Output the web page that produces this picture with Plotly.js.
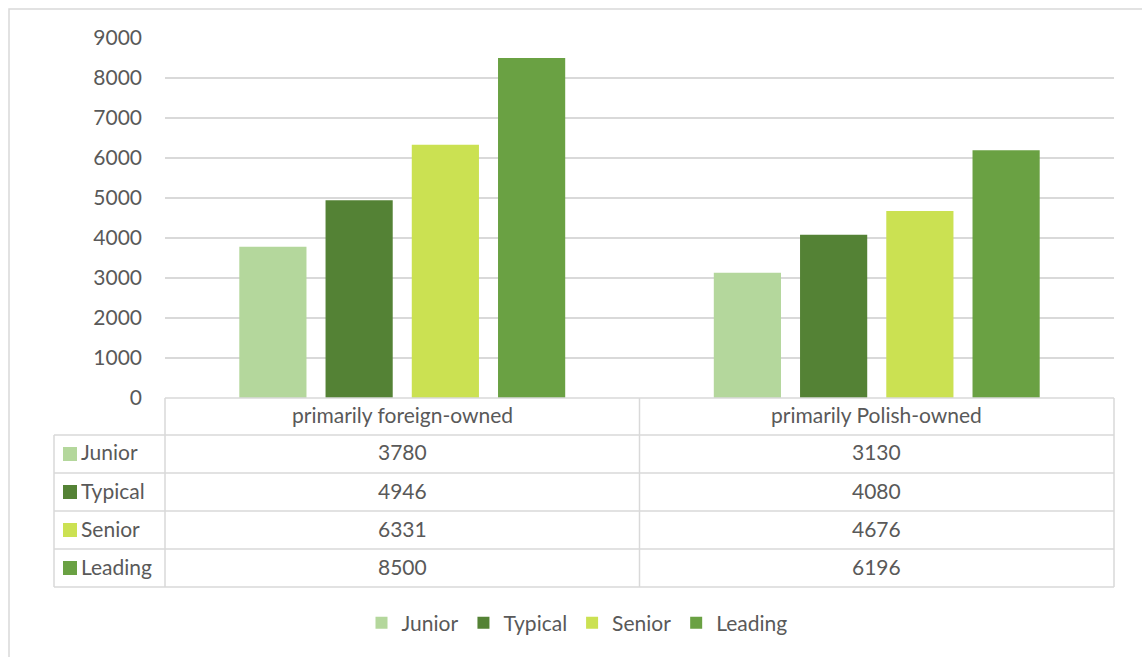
<!DOCTYPE html>
<html>
<head>
<meta charset="utf-8">
<script src="https://cdn.plot.ly/plotly-3.0.1.min.js"></script>
<style>
  html, body { margin: 0; padding: 0; background: #fff; }
  #myDiv { width: 1142px; height: 657px; }
</style>
</head>
<body>
<div id="myDiv"></div>
<script>
var categories = ['primarily foreign-owned', 'primarily Polish-owned'];
var seriesNames = ['Junior', 'Typical', 'Senior', 'Leading'];
var junior = [3780, 3130];
var typical = [4946, 4080];
var senior = [6331, 4676];
var leading = [8500, 6196];
var tickVals = [0, 1000, 2000, 3000, 4000, 5000, 6000, 7000, 8000, 9000];

var values = [junior, typical, senior, leading];
var colors = ['#B4D79C', '#548235', '#CBE152', '#6AA143'];

// plot area in pixels
var X0 = 165, X1 = 1114, Y0 = 398, Y1 = 38;
function fx(px) { return (px - X0) / (X1 - X0); }
function fy(py) { return (Y0 - py) / (Y0 - Y1); }

var font = 'Lato, "Open Sans", sans-serif';
var fontSize = 21;
var textColor = '#595959';
var gridColor = '#D9D9D9';

var data = seriesNames.map(function (name, i) {
  return {
    type: 'bar',
    name: name,
    x: categories,
    y: values[i],
    marker: { color: colors[i] },
    hoverinfo: 'x+y+name'
  };
});

// data table rows
var rowTops = [435, 473, 511, 549];
var rowH = 38;
var tableLeft = 54, tableBottom = 587;

var shapes = [];
var annotations = [];
var line = { color: gridColor, width: 1.5 };
var txtFont = { family: font, size: fontSize, color: textColor };

// outer chart border
shapes.push({ type: 'rect', xref: 'paper', yref: 'paper',
  x0: fx(9), x1: fx(1160), y0: fy(9), y1: fy(680), line: { color: '#D9D9D9', width: 1.5 } });

// table lines
shapes.push({ type: 'line', xref: 'paper', yref: 'paper', x0: 0, x1: 1, y0: 0, y1: 0, line: line });
rowTops.forEach(function (t) {
  shapes.push({ type: 'line', xref: 'paper', yref: 'paper', x0: fx(tableLeft), x1: 1, y0: fy(t), y1: fy(t), line: line });
});
shapes.push({ type: 'line', xref: 'paper', yref: 'paper', x0: fx(tableLeft), x1: 1, y0: fy(tableBottom), y1: fy(tableBottom), line: line });
shapes.push({ type: 'line', xref: 'paper', yref: 'paper', x0: fx(tableLeft), x1: fx(tableLeft), y0: fy(rowTops[0]), y1: fy(tableBottom), line: line });
[0, 0.5, 1].forEach(function (p) {
  shapes.push({ type: 'line', xref: 'paper', yref: 'paper', x0: p, x1: p, y0: 0, y1: fy(tableBottom), line: line });
});

// header labels
categories.forEach(function (c) {
  annotations.push({ xref: 'x', yref: 'paper', x: c, y: fy(Y0 + rowH / 2 - 3),
    xanchor: 'center', yanchor: 'middle', text: c, showarrow: false, font: txtFont });
});

// rows
seriesNames.forEach(function (name, i) {
  var cy = fy(rowTops[i] + rowH / 2 - 2);
  shapes.push({ type: 'rect', xref: 'paper', yref: 'paper',
    x0: fx(63), x1: fx(77), y0: fy(rowTops[i] + rowH / 2 - 7), y1: fy(rowTops[i] + rowH / 2 + 7),
    fillcolor: colors[i], line: { width: 0 } });
  annotations.push({ xref: 'paper', yref: 'paper', x: fx(79), y: cy, xanchor: 'left', yanchor: 'middle',
    text: name, showarrow: false, font: txtFont });
  categories.forEach(function (c, j) {
    annotations.push({ xref: 'x', yref: 'paper', x: c, y: cy, xanchor: 'center', yanchor: 'middle',
      text: String(values[i][j]), showarrow: false, font: txtFont });
  });
});

var layout = {
  width: 1142,
  height: 657,
  margin: { l: X0, r: 1142 - X1, t: Y1, b: 657 - Y0 },
  paper_bgcolor: '#ffffff',
  plot_bgcolor: '#ffffff',
  barmode: 'group',
  bargap: 0.273,
  bargroupgap: 0.221,
  font: txtFont,
  xaxis: {
    type: 'category',
    showticklabels: false,
    showgrid: false,
    zeroline: false,
    showline: false,
    ticks: ''
  },
  yaxis: {
    range: [0, 9000],
    tickvals: tickVals,
    showgrid: true,
    gridcolor: gridColor,
    gridwidth: 1.5,
    zeroline: false,
    showline: false,
    ticks: '',
    ticklabelstandoff: 22,
    tickfont: txtFont
  },
  showlegend: true,
  legend: {
    orientation: 'h',
    x: fx(577),
    xanchor: 'center',
    y: fy(623),
    yanchor: 'middle',
    font: txtFont,
    itemclick: false
  },
  shapes: shapes,
  annotations: annotations
};

Plotly.newPlot('myDiv', data, layout, { displayModeBar: false, staticPlot: true });
</script>
</body>
</html>
